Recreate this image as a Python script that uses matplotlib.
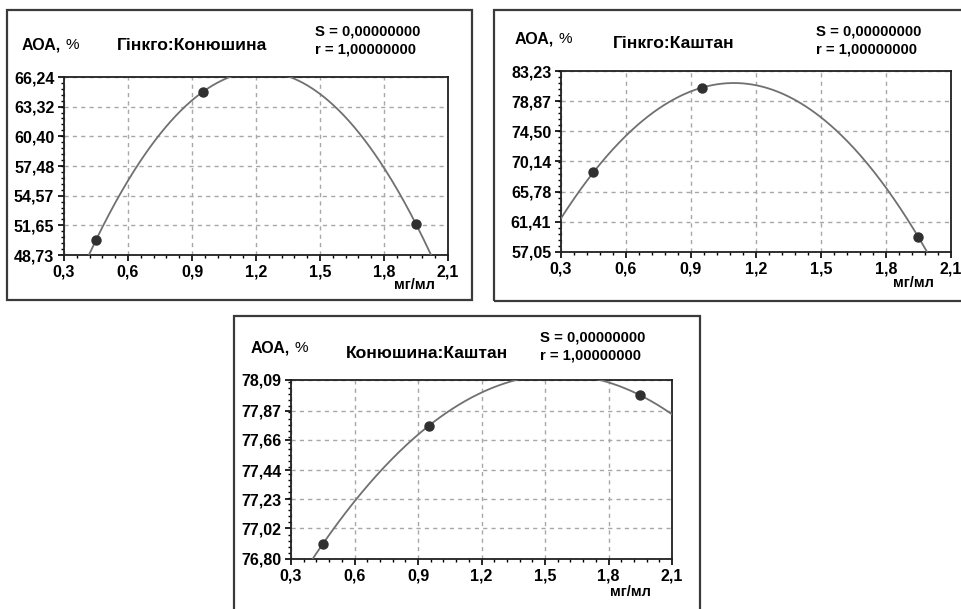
import numpy as np
import matplotlib
matplotlib.use("Agg")
import matplotlib.pyplot as plt
from matplotlib.patches import Rectangle
from matplotlib.ticker import AutoMinorLocator

plt.rcParams['font.family'] = ['Liberation Sans', 'DejaVu Sans']

# ---- data ----
conc = [0.45, 0.95, 1.95]  # мг/мл
titles = ["Гінкго:Конюшина", "Гінкго:Каштан", "Конюшина:Каштан"]
aoa_ginkgo_clover = [50.2, 64.77, 51.77]
aoa_ginkgo_chestnut = [68.59, 80.82, 59.18]
aoa_clover_chestnut = [76.908, 77.759, 77.98]
series = [aoa_ginkgo_clover, aoa_ginkgo_chestnut, aoa_clover_chestnut]

x_ticks = [0.3, 0.6, 0.9, 1.2, 1.5, 1.8, 2.1]
x_tick_labels = ["0,3", "0,6", "0,9", "1,2", "1,5", "1,8", "2,1"]
y_ticks_list = [
    [48.73, 51.65, 54.57, 57.48, 60.40, 63.32, 66.24],
    [57.05, 61.41, 65.78, 70.14, 74.50, 78.87, 83.23],
    [76.80, 77.02, 77.23, 77.44, 77.66, 77.87, 78.09],
]
y_tick_labels_list = [
    ["48,73", "51,65", "54,57", "57,48", "60,40", "63,32", "66,24"],
    ["57,05", "61,41", "65,78", "70,14", "74,50", "78,87", "83,23"],
    ["76,80", "77,02", "77,23", "77,44", "77,66", "77,87", "78,09"],
]
stat_s = "S = 0,00000000"
stat_r = "r = 1,00000000"
y_label_main = "АОА,"
y_label_unit = "%"
x_label = "мг/мл"

W, H = 962, 609
fig = plt.figure(figsize=(W / 100, H / 100), dpi=100)

def fx(px):
    return px / W

def fy(py):
    return 1 - py / H

# panel layout in pixels
axes_px = [(64, 77, 448, 255), (561, 71, 951, 252), (291, 380, 672, 559)]
boxes_px = [(7, 10, 472, 300), (494, 10, 975, 301), (234, 316, 700, 625)]
ylab_px = [(22, 45), (515, 39), (251, 348)]
title_px = [(117, 45), (613, 43), (346, 354)]
stat_px = [(315, 31, 50), (816, 31, 50), (540, 337, 356)]
xlab_px = [(435, 285), (934, 283), (651, 592)]

for (bx0, by0, bx1, by1) in boxes_px:
    fig.patches.append(Rectangle((fx(bx0), fy(by1)), fx(bx1) - fx(bx0), fy(by0) - fy(by1),
                                 transform=fig.transFigure, fill=False,
                                 edgecolor="#3a3a3a", linewidth=1.6))

for i in range(3):
    l, t, r, b = axes_px[i]
    ax = fig.add_axes([fx(l), fy(b), fx(r) - fx(l), fy(t) - fy(b)])
    yt = y_ticks_list[i]
    ax.set_xlim(x_ticks[0], x_ticks[-1])
    ax.set_ylim(yt[0], yt[-1])
    ax.set_xticks(x_ticks)
    ax.set_xticklabels(x_tick_labels, fontsize=11.5, fontweight="bold")
    ax.set_yticks(yt)
    ax.set_yticklabels(y_tick_labels_list[i], fontsize=11.5, fontweight="bold")
    ax.xaxis.set_minor_locator(AutoMinorLocator(5))
    ax.yaxis.set_minor_locator(AutoMinorLocator(5))
    ax.tick_params(which="major", direction="out", length=4, width=1.2, colors="black", pad=3)
    ax.tick_params(which="minor", direction="out", length=2.5, width=1, colors="black")
    ax.grid(True, which="major", linestyle=(0, (3, 3)), color="#a8a8a8", linewidth=1)
    for sp in ax.spines.values():
        sp.set_color("#202020")
        sp.set_linewidth(1.3)

    coef = np.polyfit(conc, series[i], 2)
    xs = np.linspace(x_ticks[0], x_ticks[-1], 300)
    ax.plot(xs, np.polyval(coef, xs), color="#707070", linewidth=1.3, zorder=3)
    ax.plot(conc, series[i], "o", color="#303030", markersize=6.5, zorder=4, clip_on=False)

    x, y = ylab_px[i]
    tl = fig.text(fx(x), fy(y), y_label_main, fontsize=11.5, fontweight="bold",
                  ha="left", va="center")
    ax.annotate(y_label_unit, xy=(1, 0.5), xycoords=tl, xytext=(4, 0),
                textcoords="offset pixels", fontsize=11, fontweight="normal",
                ha="left", va="center", annotation_clip=False)
    x, y = title_px[i]
    fig.text(fx(x), fy(y), titles[i], fontsize=12.6, fontweight="bold", ha="left", va="center")
    x, y1, y2 = stat_px[i]
    fig.text(fx(x), fy(y1), stat_s, fontsize=10.7, fontweight="bold", ha="left", va="center")
    fig.text(fx(x), fy(y2), stat_r, fontsize=10.7, fontweight="bold", ha="left", va="center")
    x, y = xlab_px[i]
    fig.text(fx(x), fy(y), x_label, fontsize=10.5, fontweight="bold", ha="right", va="center")

fig.savefig("out.png", dpi=100, facecolor="white")
